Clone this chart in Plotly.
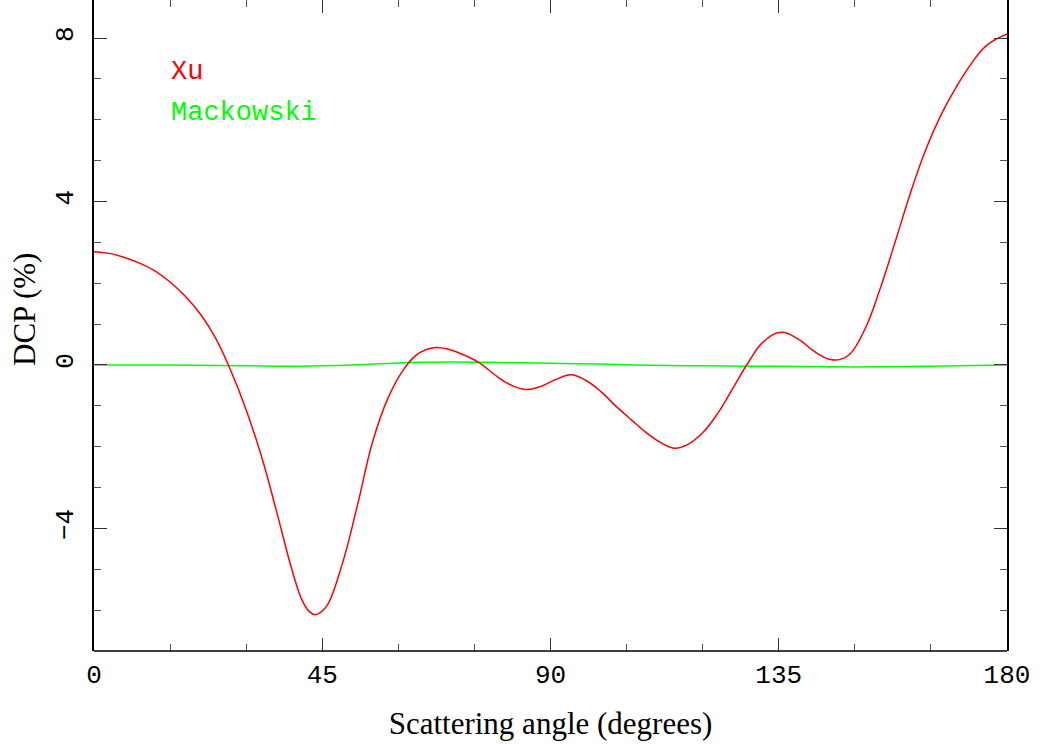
import plotly.graph_objects as go

# Scattering angle (degrees) and DCP (%) values
xu_angle = [0, 3, 6, 9, 12, 15, 18, 21, 24, 27, 30, 33, 36, 39, 41, 42.4, 43.6, 44.8,
            46, 49, 52, 55, 58, 61, 64, 67, 70, 73, 76, 79, 82, 85, 88, 91, 94, 97,
            100, 103, 106, 109, 112, 114.5, 117, 120, 123, 126, 129, 132, 135.5, 139,
            142, 145, 147, 149, 152, 155, 158, 161, 164, 167, 170, 173, 176, 180]
xu_dcp = [2.77, 2.73, 2.63, 2.49, 2.30, 2.03, 1.68, 1.24, 0.65, -0.15, -1.10, -2.23,
          -3.59, -5.00, -5.75, -6.03, -6.11, -6.04, -5.88, -4.85, -3.40, -1.85, -0.80,
          -0.12, 0.28, 0.42, 0.38, 0.24, 0.05, -0.24, -0.48, -0.60, -0.53, -0.36,
          -0.24, -0.38, -0.66, -1.02, -1.35, -1.67, -1.92, -2.04, -1.95, -1.66,
          -1.18, -0.56, 0.06, 0.57, 0.80, 0.62, 0.33, 0.14, 0.13, 0.26, 0.88, 1.87,
          3.03, 4.22, 5.27, 6.12, 6.80, 7.38, 7.82, 8.10]

mack_angle = [0, 10, 20, 30, 40, 50, 60, 70, 80, 90, 100, 110, 120, 130, 140, 150, 160, 170, 180]
mack_dcp = [0.0, 0.0, -0.01, -0.02, -0.03, -0.01, 0.05, 0.07, 0.06, 0.04, 0.02, -0.01,
            -0.02, -0.03, -0.04, -0.05, -0.04, -0.02, 0.0]

x_ticks = [0, 45, 90, 135, 180]
x_tick_text = ["0", "45", "90", "135", "180"]
y_ticks = [-4, 0, 4, 8]
y_tick_text = ["\u22124", "0", "4", "8"]

fig = go.Figure()
fig.add_trace(go.Scatter(x=mack_angle, y=mack_dcp, mode="lines", name="Mackowski",
                         line=dict(color="#00ff00", width=1.5, shape="spline")))
fig.add_trace(go.Scatter(x=xu_angle, y=xu_dcp, mode="lines", name="Xu",
                         line=dict(color="#ff0000", width=1.5, shape="spline", smoothing=1.2)))

tickfont = dict(family="Liberation Mono", size=26, color="black")
fig.update_layout(
    width=1043, height=747,
    margin=dict(l=94, r=36, t=0, b=96),
    paper_bgcolor="white", plot_bgcolor="white",
    showlegend=False,
    xaxis=dict(range=[0, 180], tickvals=x_ticks, ticktext=x_tick_text,
               ticks="inside", ticklen=13, tickwidth=1, tickcolor="#333",
               showline=False, mirror="allticks", showgrid=False, zeroline=False,
               tickfont=tickfont, ticklabelstandoff=5,
               minor=dict(dtick=15, tick0=0, ticks="inside", ticklen=7, tickwidth=1,
                          tickcolor="#555", showgrid=False),
               title=dict(text="Scattering angle (degrees)",
                          font=dict(family="Liberation Serif", size=31, color="black"),
                          standoff=22)),
    yaxis=dict(range=[-7, 8.93], tickvals=y_ticks, ticktext=y_tick_text,
               ticks="inside", ticklen=13, tickwidth=1, tickcolor="#333",
               showline=True, linecolor="black", linewidth=1.5, mirror="allticks",
               showgrid=False, zeroline=False, tickangle=-90,
               tickfont=tickfont, ticklabelstandoff=9,
               minor=dict(dtick=1, tick0=0, ticks="inside", ticklen=7, tickwidth=1,
                          tickcolor="#555", showgrid=False)),
)

# bottom axis line (top edge of the frame lies outside the picture)
fig.add_shape(type="line", xref="paper", yref="paper", x0=0, x1=1, y0=0, y1=0,
              line=dict(color="black", width=1.5))

fig.add_annotation(text="DCP (%)", xref="paper", yref="paper",
                   x=-(94 - 24) / 913, y=(651 - 310) / 651, xanchor="center", yanchor="middle",
                   textangle=-90, showarrow=False,
                   font=dict(family="Liberation Serif", size=31, color="black"))
fig.add_annotation(text="Xu", xref="paper", yref="paper",
                   x=(169 - 94) / 913, y=(651 - 72) / 651, xanchor="left", yanchor="middle",
                   showarrow=False, font=dict(family="Liberation Mono", size=27, color="#ff0000"))
fig.add_annotation(text="Mackowski", xref="paper", yref="paper",
                   x=(169 - 94) / 913, y=(651 - 113) / 651, xanchor="left", yanchor="middle",
                   showarrow=False, font=dict(family="Liberation Mono", size=27, color="#00ff00"))

fig.write_html("out.html")
